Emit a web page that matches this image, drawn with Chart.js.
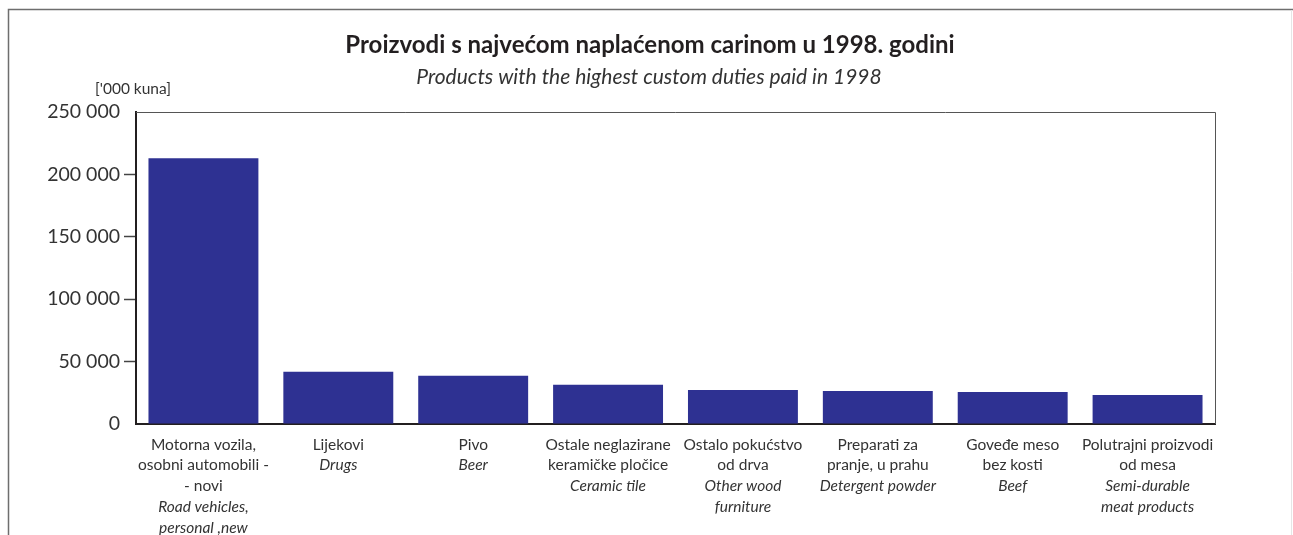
<!DOCTYPE html>
<html>
<head>
<meta charset="utf-8">
<script src="https://cdn.jsdelivr.net/npm/chart.js@4.4.1/dist/chart.umd.min.js"></script>
<style>
  html, body { margin: 0; padding: 0; background: #fff; }
  #wrap { position: relative; width: 1293px; height: 535px; }
</style>
</head>
<body>
<div id="wrap"><canvas id="c" width="1293" height="535"></canvas></div>
<script>
// ---- Data ----
const titleHr = "Proizvodi s najvećom naplaćenom carinom u 1998. godini";
const titleEn = "Products with the highest custom duties paid in 1998";
const unitLabel = "['000 kuna]";
const categoriesHr = [
  ["Motorna vozila,", "osobni automobili -", "- novi"],
  ["Lijekovi"],
  ["Pivo"],
  ["Ostale neglazirane", "keramičke pločice"],
  ["Ostalo pokućstvo", "od drva"],
  ["Preparati za", "pranje, u prahu"],
  ["Goveđe meso", "bez kosti"],
  ["Polutrajni proizvodi", "od mesa"]
];
const categoriesEn = [
  ["Road vehicles,", "personal ,new"],
  ["Drugs"],
  ["Beer"],
  ["Ceramic tile"],
  ["Other wood", "furniture"],
  ["Detergent powder"],
  ["Beef"],
  ["Semi-durable", "meat products"]
];
const values = [213000, 41900, 38700, 31500, 27200, 26400, 25600, 23200];
const yTicks = [0, 50000, 100000, 150000, 200000, 250000];

const FONT = "Lato, 'Open Sans', sans-serif";

const decorPlugin = {
  id: 'decor',
  beforeDraw(chart) {
    const ctx = chart.ctx;
    ctx.save();
    // outer frame
    ctx.strokeStyle = '#6e6e6e';
    ctx.lineWidth = 1.5;
    ctx.beginPath();
    ctx.moveTo(8.5, 535);
    ctx.lineTo(8.5, 9.5);
    ctx.lineTo(1293, 9.5);
    ctx.stroke();
    ctx.strokeStyle = '#e6e6e6';
    ctx.lineWidth = 1;
    ctx.beginPath();
    ctx.moveTo(1291.5, 10);
    ctx.lineTo(1291.5, 535);
    ctx.stroke();
    // titles
    ctx.fillStyle = '#231f20';
    ctx.textAlign = 'center';
    ctx.textBaseline = 'middle';
    ctx.font = "bold 24px " + FONT;
    ctx.fillText(titleHr, 650, 45);
    ctx.font = "italic 21px " + FONT;
    ctx.fillStyle = '#333';
    ctx.fillText(titleEn, 649, 77);
    ctx.font = "15.5px " + FONT;
    ctx.textAlign = 'left';
    ctx.fillText(unitLabel, 95, 89);
    ctx.restore();
  },
  afterDraw(chart) {
    const ctx = chart.ctx;
    const a = chart.chartArea;
    const xs = chart.scales.x;
    ctx.save();
    // top and right thin border of plot
    ctx.strokeStyle = '#555';
    ctx.lineWidth = 1;
    ctx.beginPath();
    ctx.moveTo(a.left, a.top + 0.5);
    ctx.lineTo(a.right + 0.5, a.top + 0.5);
    ctx.lineTo(a.right + 0.5, a.bottom);
    ctx.stroke();
    // category labels
    ctx.fillStyle = '#333';
    ctx.textAlign = 'center';
    ctx.textBaseline = 'middle';
    const lh = 20.8;
    for (let i = 0; i < categoriesHr.length; i++) {
      const x = xs.getPixelForTick(i);
      let y = a.bottom + 20.5;
      ctx.font = "15.5px " + FONT;
      for (const l of categoriesHr[i]) { ctx.fillText(l, x, y); y += lh; }
      ctx.font = "italic 15.5px " + FONT;
      for (const l of categoriesEn[i]) { ctx.fillText(l, x, y); y += lh; }
    }
    ctx.restore();
  }
};

new Chart(document.getElementById('c'), {
  type: 'bar',
  data: {
    labels: categoriesHr.map(c => c.join(' ')),
    datasets: [{
      data: values,
      backgroundColor: '#2e3192',
      barPercentage: 0.815,
      categoryPercentage: 1.0
    }]
  },
  options: {
    responsive: false,
    animation: false,
    devicePixelRatio: 1,
    layout: { padding: { top: 112, right: 78, bottom: 111, left: 0 } },
    plugins: { legend: { display: false }, tooltip: { enabled: false }, title: { display: false } },
    scales: {
      x: {
        ticks: { display: false },
        grid: { display: false, drawTicks: false },
        border: { display: true, color: '#231f20', width: 2 }
      },
      y: {
        min: 0, max: 250000,
        afterFit(s) { s.width = 136; },
        afterBuildTicks(s) { s.ticks = yTicks.map(v => ({ value: v })); },
        ticks: {
          color: '#333',
          font: { family: FONT, size: 19.5 },
          padding: 4,
          callback: v => String(v).replace(/\B(?=(\d{3})+(?!\d))/g, ' ')
        },
        grid: {
          drawOnChartArea: false,
          drawTicks: true,
          tickLength: 12,
          tickWidth: 1.5,
          tickColor: c => (c.tick && (c.tick.value === 0 || c.tick.value === 250000)) ? 'rgba(0,0,0,0)' : '#444'
        },
        border: { display: true, color: '#231f20', width: 2 }
      }
    }
  },
  plugins: [decorPlugin]
});
</script>
</body>
</html>
